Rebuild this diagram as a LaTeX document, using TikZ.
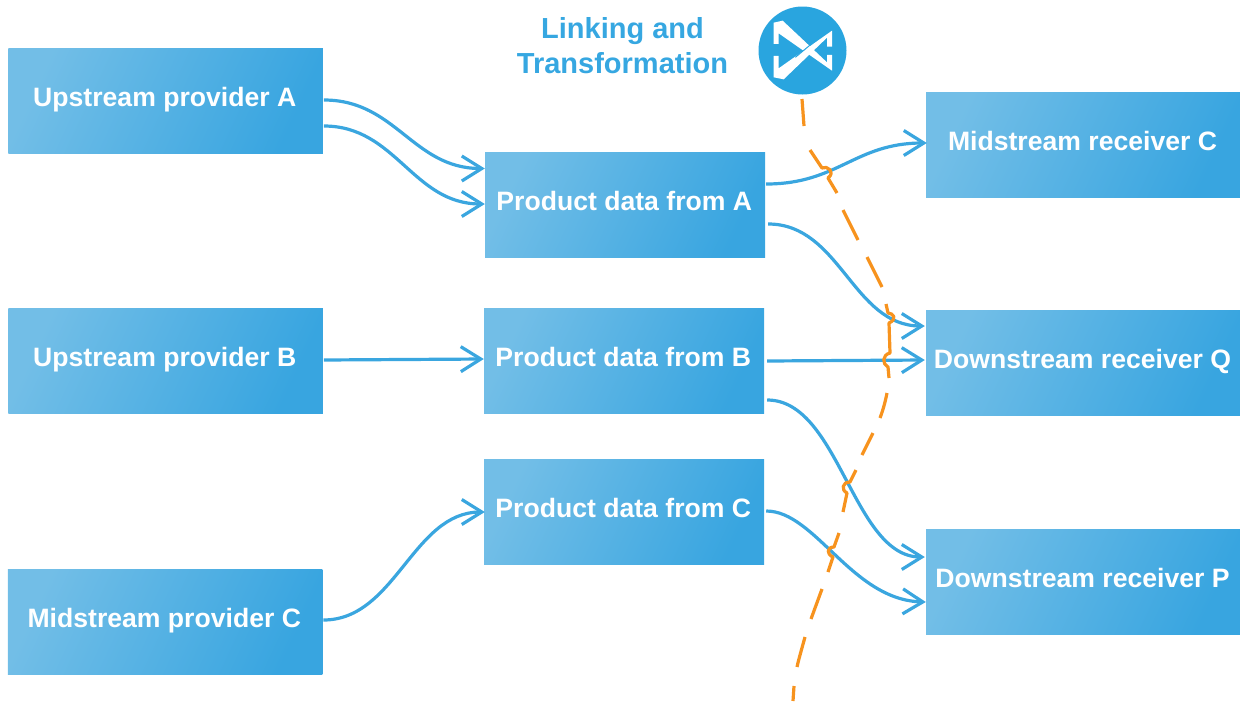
\documentclass[tikz,border=0pt]{standalone}
\usepackage{fontspec}
\setmainfont{Liberation Sans}
\usetikzlibrary{arrows.meta}
\definecolor{boxlight}{HTML}{72BEE7}
\definecolor{boxdark}{HTML}{38A5E0}
\definecolor{linkblue}{HTML}{3AA6DF}
\definecolor{titleblue}{HTML}{36A7E1}
\definecolor{iconblue}{HTML}{29A5DF}
\definecolor{cutorange}{HTML}{F7931E}
\tikzset{
  databox/.style={rectangle,inner sep=0pt,minimum width=314.5pt,minimum height=105pt,
    top color=boxlight,bottom color=boxdark,shading angle=65,
    text=white,font=\bfseries\fontsize{26.6}{30}\selectfont},
  midbox/.style={databox,minimum width=280pt},
  link/.style={draw=linkblue,line width=3.2pt,-{Straight Barb[length=20pt,width=25pt,line width=3.2pt]}},
  cut/.style={draw=cutorange,line width=3.2pt,line join=round},
}
\newcommand{\lbl}[1]{\raisebox{8pt}{#1}\kern1.4pt}
\begin{document}
\begin{tikzpicture}[x=1pt,y=-1pt]
\useasboundingbox (0,0) rectangle (1240,702);
\node[databox] (ua) at (165.5,100.5) {\lbl{Upstream provider A}};
\node[databox] (ub) at (165.5,361) {\lbl{Upstream provider B}};
\node[databox] (mp) at (165,621.5) {\lbl{Midstream provider C}};
\node[midbox] (pa) at (625,205) {\lbl{Product data from A}};
\node[midbox] (pb) at (624,361) {\lbl{Product data from B}};
\node[midbox] (pc) at (624,512) {\lbl{Product data from C}};
\node[databox] (mr) at (1083.25,144.5) {\lbl{Midstream receiver C}};
\node[databox] (dq) at (1083.25,363) {\lbl{Downstream receiver Q}};
\node[databox] (dp) at (1083.25,582) {\lbl{Downstream receiver P}};
\node[text=titleblue,font=\bfseries\fontsize{29}{35}\selectfont,align=center,inner sep=0pt] (title) at (622.5,46) {Linking and\\Transformation};
\node[circle,fill=iconblue,minimum size=88pt,inner sep=0pt] (icon) at (802.5,50.5) {};
\begin{scope}[shift={(752,0)},x=0.3333pt,y=-0.3333pt]
\fill[white] (65,132) -- (65,68) -- (92,62) -- (225,187) -- (225,165) -- (240,165) -- (240,212) -- (80,100) -- (80,132) -- cycle;
\fill[white] (65,168) -- (65,232) -- (95,238) -- (225,113) -- (225,140) -- (240,140) -- (240,92) -- (80,205) -- (80,168) -- cycle;
\draw[iconblue,line width=1pt] (130,172) -- (190,122);
\end{scope}
% upstream to product
\draw[link] ([shift={(1,-0.5)}]ua.east) .. controls +(72,0) and +(-72,0) .. ([shift={(0,-36.5)}]pa.west);
\draw[link] ([shift={(1,25.5)}]ua.east) .. controls +(72,0) and +(-72,0) .. ([shift={(0,-1)}]pa.west);
\draw[link] ([shift={(1,-1)}]ub.east) -- ([shift={(0,-2)}]pb.west);
\draw[link] ([shift={(1,-1.5)}]mp.east) .. controls +(72,0) and +(-72,0) .. ([shift={(1,0)}]pc.west);
% product to receivers
\draw[link] ([shift={(1,-21)}]pa.east) .. controls +(72,0) and +(-72,0) .. ([shift={(1,-1.5)}]mr.west);
\draw[link] ([shift={(3,19)}]pa.east) .. controls +(72,0) and +(-72,0) .. ([shift={(-1,-37)}]dq.west);
\draw[link] ([shift={(3,0)}]pb.east) -- ([shift={(-1,-3)}]dq.west);
\draw[link] ([shift={(3,39)}]pb.east) .. controls +(72,0) and +(-72,0) .. ([shift={(-1,-25)}]dp.west);
\draw[link] ([shift={(2,-1)}]pc.east) .. controls +(49,0) and +(-74,-2) .. ([shift={(0,20)}]dp.west);
% orange dashed cut line with hops
\draw[cut] (802,99) -- (804,126);
\draw[cut] (810,150) -- (822,168) .. controls (827,165) and (836,172) .. (828,178) -- (837,193);
\draw[cut] (843,210) -- (858,240);
\draw[cut] (867,257) -- (882,287);
\draw[cut] (886,304) -- (888,313) .. controls (893,313) and (898,319) .. (889,323) -- (890,353) .. controls (882,355) and (882,364) .. (888,367) -- (889,378);
\draw[cut] (887,393) .. controls (885,403) and (883,410) .. (880,418);
\draw[cut] (873,433) -- (862,455);
\draw[cut] (856,470) -- (850,482) .. controls (842,482) and (841,490) .. (847,493) -- (843,512);
\draw[cut] (839,533) -- (834,547) .. controls (827,547) and (826,554) .. (833,557) -- (828,572);
\draw[cut] (822,589) -- (811,619);
\draw[cut] (805,637) .. controls (802,648) and (799,658) .. (797,667);
\draw[cut] (794,686) -- (793,701);
\end{tikzpicture}
\end{document}
